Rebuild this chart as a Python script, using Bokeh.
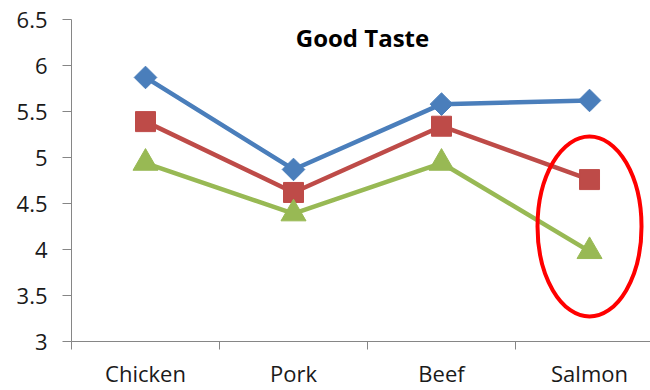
import numpy as np
from bokeh.plotting import figure
from bokeh.models import Range1d, FixedTicker, Label
from bokeh.embed import file_html
from bokeh.resources import INLINE

# ---- data ----
categories = ["Chicken", "Pork", "Beef", "Salmon"]
series_blue = [5.87, 4.87, 5.58, 5.62]
series_red = [5.39, 4.62, 5.34, 4.76]
series_green = [4.94, 4.39, 4.94, 3.98]
y_ticks = [3, 3.5, 4, 4.5, 5, 5.5, 6, 6.5]
y_tick_labels = ["3", "3.5", "4", "4.5", "5", "5.5", "6", "6.5"]
title_text = "Good Taste"
highlight_category = "Salmon"
highlight_center_value = 4.25

FONT = "Open Sans"
AXIS_COLOR = "#868686"
BLUE = "#4A7EBB"
RED = "#BE4B48"
GREEN = "#98B954"

xs = [i + 0.5 for i in range(len(categories))]

p = figure(width=650, height=390, output_backend="svg", toolbar_location=None,
           x_range=Range1d(0, 3.912), y_range=Range1d(3, 6.5),
           min_border_left=71, min_border_right=0, min_border_top=19, min_border_bottom=49)
p.outline_line_color = None
p.xgrid.visible = False
p.ygrid.visible = False
p.background_fill_color = "white"
p.border_fill_color = "white"

# y axis
ya = p.yaxis[0]
ya.ticker = FixedTicker(ticks=y_ticks, minor_ticks=[])
ya.major_label_overrides = {t: l for t, l in zip(y_ticks, y_tick_labels)}
ya.axis_line_color = AXIS_COLOR
ya.major_tick_line_color = AXIS_COLOR
ya.major_tick_out = 9
ya.major_tick_in = 0
ya.major_label_standoff = 15
ya.major_label_text_font = FONT
ya.major_label_text_font_size = "22px"
ya.major_label_text_color = "#1a1a1a"

# x axis: labels at category centres, tick marks at category boundaries
xa = p.xaxis[0]
xa.ticker = FixedTicker(ticks=xs, minor_ticks=[float(i) for i in range(len(categories) + 1)])
xa.major_label_overrides = {x: c for x, c in zip(xs, categories)}
xa.axis_line_color = AXIS_COLOR
xa.major_tick_line_color = None
xa.major_tick_out = 0
xa.major_tick_in = 0
xa.minor_tick_line_color = AXIS_COLOR
xa.minor_tick_out = 8
xa.minor_tick_in = 0
xa.major_label_standoff = 8
xa.major_label_text_font = FONT
xa.major_label_text_font_size = "22px"
xa.major_label_text_color = "#1a1a1a"

# series
p.line(xs, series_blue, line_color=BLUE, line_width=4.5)
p.scatter(xs, series_blue, marker="square", angle=np.pi / 4, size=16,
          fill_color=BLUE, line_color=BLUE)

p.line(xs, series_red, line_color=RED, line_width=4.5)
p.scatter(xs, series_red, marker="square", size=20, fill_color=RED, line_color=RED)

p.line(xs, series_green, line_color=GREEN, line_width=4.5)
p.scatter(xs, series_green, marker="triangle", size=25, fill_color=GREEN, line_color=GREEN)

# highlight ellipse around Salmon
hx = xs[categories.index(highlight_category)]
p.ellipse(x=[hx], y=[highlight_center_value], width=[104], height=[180],
          width_units="screen", height_units="screen",
          fill_color=None, line_color="#FF0000", line_width=4)

# title inside plot area
p.add_layout(Label(x=1.966, y=6.304, text=title_text, text_align="center",
                   text_baseline="alphabetic", text_font=FONT, text_font_style="bold",
                   text_font_size="24px", text_color="black"))

open("out.html", "w").write(file_html(p, INLINE))
